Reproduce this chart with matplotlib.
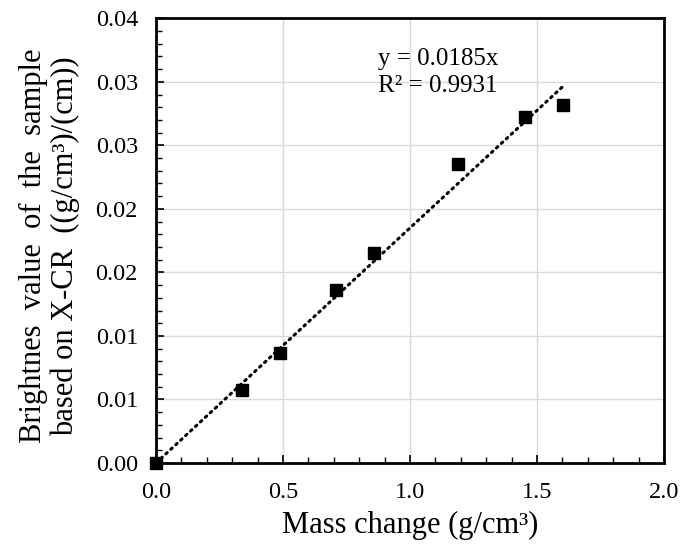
import numpy as np
import matplotlib.pyplot as plt
from matplotlib.ticker import MultipleLocator, FormatStrFormatter

# 数据
mass_change = [0.0, 0.34, 0.49, 0.707, 0.857, 1.19, 1.454, 1.601]
brightness = [0.0, 0.00578, 0.00862, 0.01364, 0.01656, 0.0235, 0.02724, 0.02821]
slope = 0.0185
r2 = 0.9931

x_ticks = [0.0, 0.5, 1.0, 1.5, 2.0]
y_ticks = [0.0, 0.005, 0.01, 0.015, 0.02, 0.025, 0.03, 0.035]
y_tick_labels = ['0.00', '0.01', '0.01', '0.02', '0.02', '0.03', '0.03', '0.04']

plt.rcParams['font.family'] = ['Liberation Serif', 'DejaVu Serif']

fig = plt.figure(figsize=(6.83, 5.54), dpi=100)
ax = fig.add_axes([0.2284, 0.1643, 0.9722 - 0.2284, 0.9670 - 0.1643])

ax.grid(True, color='#d9d9d9', linewidth=1.0)
ax.set_axisbelow(True)

# 趋势线
xt = np.array([0.0, max(mass_change)])
ax.plot(xt, slope * xt, color='black', linewidth=2.2,
        linestyle=(0, (0.6, 1.6)), dash_capstyle='round', zorder=2)

ax.plot(mass_change, brightness, 's', color='black', markersize=8,
        clip_on=False, zorder=3)

ax.set_xlim(0, 2.0)
ax.set_ylim(0, 0.035)
ax.set_xticks(x_ticks)
ax.xaxis.set_major_formatter(FormatStrFormatter('%.1f'))
ax.set_yticks(y_ticks)
ax.set_yticklabels(y_tick_labels)
ax.xaxis.set_minor_locator(MultipleLocator(0.1))
ax.yaxis.set_minor_locator(MultipleLocator(0.001))

ax.tick_params(which='major', direction='in', length=6, width=1.2,
               labelsize=17.5, colors='black')
ax.tick_params(which='minor', direction='in', length=4, width=1.0)
ax.tick_params(axis='y', which='major', pad=13)
ax.tick_params(axis='x', which='major', pad=14)

for s in ax.spines.values():
    s.set_linewidth(2.0)
    s.set_color('black')

ax.text(1.11, 0.0318, f'y = {slope}x', fontsize=18, ha='center', va='center')
ax.text(1.11, 0.0297, f'R² = {r2}', fontsize=18, ha='center', va='center')

fig.text(0.6003, 0.052, 'Mass change (g/cm³)', fontsize=22,
         ha='center', va='center')
fig.text(0.0725, 0.556,
         'Brightnes  value  of  the  sample\nbased on X-CR  ((g/cm³)/(cm))',
         fontsize=22, rotation=90, ha='center', va='center',
         multialignment='center', linespacing=1.15)

fig.savefig('out.png', dpi=100)
plt.close(fig)
